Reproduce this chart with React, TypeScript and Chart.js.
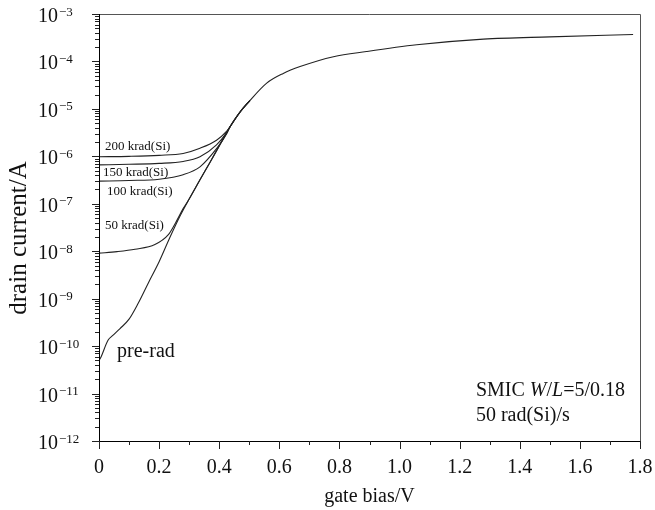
import React, { useEffect, useRef } from "react";
import { Chart, registerables } from "chart.js";

Chart.register(...registerables);

// gate bias (V) and drain current (A)
const preRadBias = [0, 0.005, 0.03, 0.045, 0.07, 0.1, 0.13, 0.165, 0.2, 0.235, 0.27, 0.3, 0.336, 0.37, 0.4, 0.436, 0.47, 0.502, 0.558, 0.613, 0.669, 0.78, 0.89, 1.057, 1.279, 1.5, 1.777];
const preRadCurrent = [5.0e-11, 5.6e-11, 1.33e-10, 1.66e-10, 2.34e-10, 3.7e-10, 7.9e-10, 2.2e-9, 6.0e-9, 1.9e-8, 5.6e-8, 1.26e-7, 3.2e-7, 7.6e-7, 1.66e-6, 4.2e-6, 8.7e-6, 1.5e-5, 3.5e-5, 5.6e-5, 7.8e-5, 1.26e-4, 1.62e-4, 2.24e-4, 2.95e-4, 3.3e-4, 3.7e-4];

const irradBias = [0, 0.1, 0.2, 0.28, 0.336, 0.391, 0.425, 0.436, 0.47, 0.502];
const krad200Current = [9.8e-7, 1.0e-6, 1.05e-6, 1.15e-6, 1.48e-6, 2.19e-6, 3.4e-6, 4.2e-6, 8.7e-6, 1.5e-5];
const krad150Current = [6.6e-7, 6.8e-7, 7.1e-7, 7.8e-7, 9.8e-7, 1.74e-6, 3.2e-6, 4.2e-6, 8.7e-6, 1.5e-5];
const krad100Current = [3.0e-7, 3.1e-7, 3.3e-7, 4.1e-7, 6.0e-7, 1.45e-6, 3.0e-6, 4.2e-6, 8.7e-6, 1.5e-5];

const krad50Bias = [0, 0.06, 0.12, 0.186, 0.23, 0.255, 0.28, 0.3, 0.336, 0.37, 0.4, 0.436];
const krad50Current = [9.1e-9, 9.8e-9, 1.1e-8, 1.38e-8, 2.2e-8, 4.0e-8, 7.9e-8, 1.26e-7, 3.2e-7, 7.6e-7, 1.66e-6, 4.2e-6];

// axes
const xTickValues = [0, 0.1, 0.2, 0.3, 0.4, 0.5, 0.6, 0.7, 0.8, 0.9, 1.0, 1.1, 1.2, 1.3, 1.4, 1.5, 1.6, 1.7, 1.8];
const xTickLabels = ["0", "", "0.2", "", "0.4", "", "0.6", "", "0.8", "", "1.0", "", "1.2", "", "1.4", "", "1.6", "", "1.8"];
const yDecadeExponents = [-12, -11, -10, -9, -8, -7, -6, -5, -4, -3];
const yMinorSteps = [2, 3, 4, 5, 6, 7, 8, 9];

// curve labels: [text, bias, current]
const curveLabels: [string, number, number][] = [
  ["200 krad(Si)", 0.02, 1.62e-6],
  ["150 krad(Si)", 0.013, 4.6e-7],
  ["100 krad(Si)", 0.027, 1.78e-7],
  ["50 krad(Si)", 0.02, 3.55e-8],
];
const preRadLabel: [string, number, number] = ["pre-rad", 0.06, 7.6e-11];
const noteAnchor: [number, number] = [1.254, 8.9e-12];

const SERIF = '"Liberation Serif", "Times New Roman", serif';

function pts(xs: number[], ys: number[]) {
  return xs.map((x, i) => ({ x, y: ys[i] }));
}

const decorPlugin = {
  id: "decor",
  afterDraw(chart: any) {
    const { ctx, chartArea: a, scales } = chart;
    const xs = scales.x;
    const ys = scales.y;
    ctx.save();
    // frame
    ctx.lineWidth = 1;
    ctx.strokeStyle = "#555";
    ctx.beginPath();
    ctx.moveTo(a.left, a.top + 0.5);
    ctx.lineTo(a.right + 0.5, a.top + 0.5);
    ctx.lineTo(a.right + 0.5, a.bottom);
    ctx.stroke();
    ctx.strokeStyle = "#000";
    ctx.beginPath();
    ctx.moveTo(a.left + 0.5, a.top);
    ctx.lineTo(a.left + 0.5, a.bottom + 0.5);
    ctx.lineTo(a.right + 1, a.bottom + 0.5);
    ctx.stroke();

    // y ticks
    ctx.strokeStyle = "#222";
    ys.ticks.forEach((t: any) => {
      const py = Math.round(ys.getPixelForValue(t.value)) + 0.5;
      const len = t.major ? 7 : 4;
      ctx.beginPath();
      ctx.moveTo(a.left - len, py);
      ctx.lineTo(a.left, py);
      ctx.stroke();
    });
    // x ticks
    xs.ticks.forEach((t: any, i: number) => {
      const px = Math.round(xs.getPixelForValue(t.value)) + 0.5;
      const len = i % 2 === 0 ? 8 : 4;
      ctx.beginPath();
      ctx.moveTo(px, a.bottom);
      ctx.lineTo(px, a.bottom + len);
      ctx.stroke();
    });

    // y tick labels 10^n
    ctx.fillStyle = "#111";
    yDecadeExponents.forEach((e) => {
      const py = ys.getPixelForValue(Math.pow(10, e));
      ctx.font = `20px ${SERIF}`;
      ctx.textAlign = "left";
      ctx.textBaseline = "alphabetic";
      ctx.fillText("10", 38, py + 8);
      ctx.font = `13px ${SERIF}`;
      ctx.fillText("\u2212" + String(Math.abs(e)), 59, py + 1.5);
    });

    // y title
    ctx.save();
    ctx.translate(26, 238);
    ctx.rotate(-Math.PI / 2);
    ctx.font = `25px ${SERIF}`;
    ctx.textAlign = "center";
    ctx.textBaseline = "alphabetic";
    ctx.fillText("drain current/A", 0, 0);
    ctx.restore();

    // curve labels
    ctx.textAlign = "left";
    ctx.textBaseline = "middle";
    ctx.font = `13px ${SERIF}`;
    curveLabels.forEach(([txt, vx, vy]) => {
      ctx.fillText(txt, xs.getPixelForValue(vx), ys.getPixelForValue(vy));
    });
    ctx.font = `20px ${SERIF}`;
    ctx.fillText(preRadLabel[0], xs.getPixelForValue(preRadLabel[1]), ys.getPixelForValue(preRadLabel[2]));

    // note
    let nx = xs.getPixelForValue(noteAnchor[0]);
    const ny = ys.getPixelForValue(noteAnchor[1]);
    ctx.textBaseline = "alphabetic";
    const parts: [string, boolean][] = [["SMIC ", false], ["W", true], ["/", false], ["L", true], ["=5/0.18", false]];
    parts.forEach(([s, it]) => {
      ctx.font = `${it ? "italic " : ""}20px ${SERIF}`;
      ctx.fillText(s, nx, ny);
      nx += ctx.measureText(s).width;
    });
    ctx.font = `20px ${SERIF}`;
    ctx.fillText("50 rad(Si)/s", xs.getPixelForValue(noteAnchor[0]), ny + 25);
    ctx.restore();
  },
};

export default function App() {
  const ref = useRef<HTMLCanvasElement>(null);
  useEffect(() => {
    document.body.style.margin = "0";
    const line = (data: any) => ({
      data,
      borderColor: "#222",
      borderWidth: 1.1,
      pointRadius: 0,
      fill: false,
      cubicInterpolationMode: "monotone" as const,
    });
    const chart = new Chart(ref.current!, {
      type: "line",
      data: {
        datasets: [
          { label: "pre-rad", ...line(pts(preRadBias, preRadCurrent)) },
          { label: "50 krad(Si)", ...line(pts(krad50Bias, krad50Current)) },
          { label: "100 krad(Si)", ...line(pts(irradBias, krad100Current)) },
          { label: "150 krad(Si)", ...line(pts(irradBias, krad150Current)) },
          { label: "200 krad(Si)", ...line(pts(irradBias, krad200Current)) },
        ],
      },
      options: {
        responsive: false,
        animation: false,
        layout: { padding: { top: 14, right: 15, left: 0, bottom: 0 } },
        plugins: { legend: { display: false }, tooltip: { enabled: false } },
        scales: {
          x: {
            type: "linear",
            min: 0,
            max: 1.8,
            afterBuildTicks: (s: any) => {
              s.ticks = xTickValues.map((v) => ({ value: v }));
            },
            afterFit: (s: any) => {
              s.height = 69;
              s.paddingLeft = 0;
              s.paddingRight = 0;
            },
            grid: { display: false, drawTicks: false },
            border: { display: false },
            ticks: {
              autoSkip: false,
              maxRotation: 0,
              padding: 15,
              color: "#111",
              font: { family: SERIF, size: 20 },
              callback: (_v: any, i: number) => xTickLabels[i],
            },
            title: {
              display: true,
              text: "gate bias/V",
              color: "#111",
              font: { family: SERIF, size: 20 },
              padding: { top: 0, bottom: 1 },
            },
          },
          y: {
            type: "logarithmic",
            min: 1e-12,
            max: 1e-3,
            afterBuildTicks: (s: any) => {
              const t: any[] = [];
              yDecadeExponents.forEach((e) => {
                t.push({ value: Math.pow(10, e), major: true });
                if (e < -3) yMinorSteps.forEach((m) => t.push({ value: m * Math.pow(10, e), major: false }));
              });
              s.ticks = t;
            },
            afterFit: (s: any) => {
              s.width = 99;
              s.paddingTop = 0;
              s.paddingBottom = 0;
            },
            grid: { display: false, drawTicks: false },
            border: { display: false },
            ticks: { display: false, autoSkip: false },
          },
        },
      },
      plugins: [decorPlugin],
    } as any);
    return () => chart.destroy();
  }, []);
  return (
    <div style={{ width: 655, height: 510 }}>
      <canvas ref={ref} width={655} height={510} />
    </div>
  );
}
